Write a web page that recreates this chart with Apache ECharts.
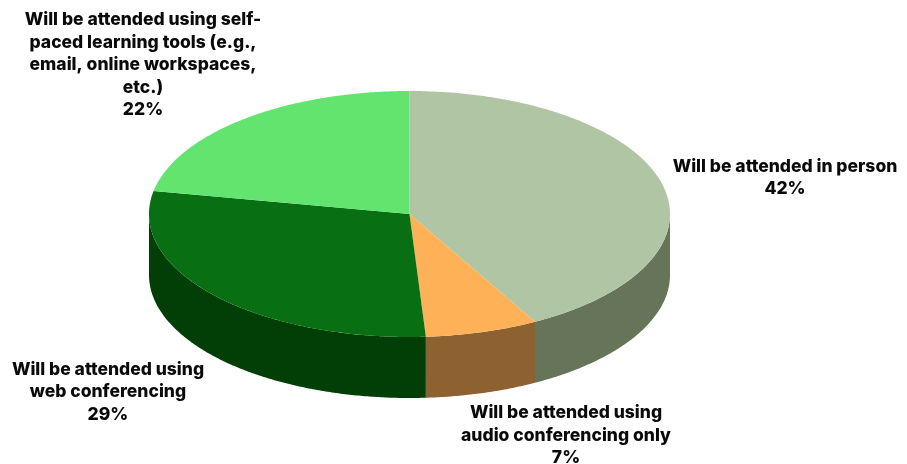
<!DOCTYPE html>
<html>
<head>
<meta charset="utf-8">
<title>Attendance mode</title>
<script src="https://cdn.jsdelivr.net/npm/echarts@6/dist/echarts.min.js"></script>
<style>html,body{margin:0;padding:0;background:#fff}#chart{width:907px;height:464px}</style>
</head>
<body>
<div id="chart"></div>
<script>
// Share of sessions by attendance mode, clockwise from twelve o'clock.
const categories = [
  'Will be attended in person',
  'Will be attended using\naudio conferencing only',
  'Will be attended using\nweb conferencing',
  'Will be attended using self-\npaced learning tools (e.g.,\nemail, online workspaces,\netc.)'
];
const shares = [42, 7, 29, 22];
const topColors = ['#b0c5a4', '#ffb157', '#086f12', '#62e46e'];
const wallColors = ['#66745a', '#8e6130', '#023f07', '#3d8f45'];
const labelCentres = [[785, 178], [566, 435.5], [108, 392], [143, 65]];

// Tilted disc geometry.
const disc = { cx: 409.5, cy: 214, rx: 260.5, ry: 123, depth: 61 };
const total = shares.reduce((a, b) => a + b, 0);

function rimPoint(deg, drop) {
  const r = deg * Math.PI / 180;
  return [disc.cx + disc.rx * Math.sin(r), disc.cy - disc.ry * Math.cos(r) + (drop || 0)];
}
function arc(from, to, drop) {
  const pts = [];
  const steps = Math.max(2, Math.ceil(Math.abs(to - from) * 2));
  for (let i = 0; i <= steps; i++) pts.push(rimPoint(from + (to - from) * i / steps, drop));
  return pts;
}

const chart = echarts.init(document.getElementById('chart'), null, { renderer: 'canvas' });

chart.setOption({
  animation: false,
  backgroundColor: '#ffffff',
  series: [
    {
      // Outer wall: only the part of the rim that faces the viewer.
      type: 'custom',
      coordinateSystem: 'none',
      silent: true,
      z: 1,
      data: shares,
      renderItem(params, api) {
        const before = shares.slice(0, params.dataIndex).reduce((a, b) => a + b, 0);
        const start = Math.max(before / total * 360, 90);
        const end = Math.min((before + api.value(0)) / total * 360, 270);
        if (end <= start) return { type: 'group', children: [] };
        const points = arc(start, end, 0).concat(arc(end, start, disc.depth));
        return { type: 'polygon', shape: { points }, style: { fill: wallColors[params.dataIndex] } };
      }
    },
    {
      // Top face and the slice captions.
      type: 'custom',
      coordinateSystem: 'none',
      silent: true,
      z: 2,
      data: shares,
      renderItem(params, api) {
        const i = params.dataIndex;
        const before = shares.slice(0, i).reduce((a, b) => a + b, 0);
        const value = api.value(0);
        const start = before / total * 360;
        const end = (before + value) / total * 360;
        const points = [[disc.cx, disc.cy]].concat(arc(start, end, 0));
        return {
          type: 'group',
          children: [
            { type: 'polygon', shape: { points }, style: { fill: topColors[i] } },
            {
              type: 'text',
              x: labelCentres[i][0],
              y: labelCentres[i][1],
              style: {
                text: categories[i] + '\n' + value + '%',
                fill: '#0a0a0a',
                font: '800 17.5px Inter',
                lineHeight: 22.4,
                align: 'center',
                verticalAlign: 'middle'
              }
            }
          ]
        };
      }
    }
  ]
});
</script>
</body>
</html>
